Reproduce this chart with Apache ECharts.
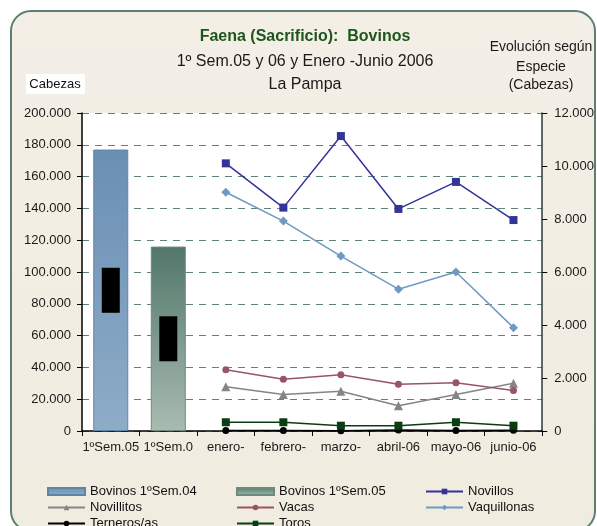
<!DOCTYPE html>
<html>
<head>
<meta charset="utf-8">
<script src="https://cdn.jsdelivr.net/npm/echarts@6/dist/echarts.min.js"></script>
<style>
  html, body { margin: 0; padding: 0; background: #fff; }
  #chart { width: 597px; height: 526px; }
</style>
</head>
<body>
<div id="chart"></div>
<script>
// categorias del eje x
const categories = ['1ºSem.05', '1ºSem.0', 'enero-', 'febrero-', 'marzo-', 'abril-06', 'mayo-06', 'junio-06'];

// barras (eje izquierdo)
const bovinos04 = [177000, '-', '-', '-', '-', '-', '-', '-'];
const bovinos05 = ['-', 116000, '-', '-', '-', '-', '-', '-'];

// lineas (eje derecho)
const novillos    = ['-', '-', 10100, 8430, 11130, 8380, 9400, 7960];
const novillitos  = ['-', '-', 1670, 1380, 1500, 950, 1380, 1800];
const vacas       = ['-', '-', 2310, 1950, 2120, 1760, 1820, 1530];
const vaquillonas = ['-', '-', 9010, 7920, 6600, 5350, 6000, 3900];
const terneros    = ['-', '-', 20, 20, 10, 40, 20, 30];
const toros       = ['-', '-', 330, 330, 200, 200, 330, 200];

// escalas
const leftMax = 200000, leftStep = 20000;
const rightMax = 12000, rightStep = 2000;

const fmt = v => String(v).replace(/\B(?=(\d{3})+(?!\d))/g, '.');
const FONT = '"Liberation Sans", Arial, sans-serif';

const chart = echarts.init(document.getElementById('chart'));

function lineSeries (name, data, color, symbol, size) {
  return {
    name: name,
    type: 'line',
    yAxisIndex: 1,
    data: data,
    symbol: symbol,
    symbolSize: size,
    lineStyle: { color: color, width: 1.5 },
    itemStyle: { color: color },
    z: 5
  }
}

// una leyenda por elemento para fijar la grilla 3 columnas
function legendItem (name, left, top, icon) {
  const l = {
    left: left, top: top, itemWidth: 37, itemHeight: 7, padding: 0,
    textStyle: { fontSize: 13, color: '#111', fontFamily: FONT },
    data: [name]
  };
  if (icon) l.icon = icon;
  return l
}

const blackBox = {
  show: true,
  position: 'inside',
  formatter: ' ',
  backgroundColor: '#000',
  width: 18,
  height: 45
};

const option = {
  animation: false,
  backgroundColor: '#fff',
  textStyle: { fontFamily: FONT },
  graphic: [
    {
      type: 'rect', z: -10,
      shape: { x: 11, y: 11, width: 584, height: 520, r: 20 },
      style: {
        fill: new echarts.graphic.LinearGradient(0, 0, 0, 1, [
          { offset: 0, color: '#f4efe6' }, { offset: 1, color: '#f1ece0' }
        ]),
        stroke: '#5b7f70', lineWidth: 2
      }
    },
    { type: 'text', style: { text: 'Faena (Sacrificio):  Bovinos', x: 305, y: 37, textAlign: 'center', textVerticalAlign: 'middle', font: 'bold 16px ' + FONT, fill: '#1d561d' } },
    { type: 'text', style: { text: '1º Sem.05 y 06 y Enero -Junio 2006', x: 305, y: 62, textAlign: 'center', textVerticalAlign: 'middle', font: '16px ' + FONT, fill: '#1a1a1a' } },
    { type: 'text', style: { text: 'La Pampa', x: 305, y: 85, textAlign: 'center', textVerticalAlign: 'middle', font: '16px ' + FONT, fill: '#1a1a1a' } },
    { type: 'text', style: { text: 'Evolución según', x: 541, y: 47, textAlign: 'center', textVerticalAlign: 'middle', font: '14px ' + FONT, fill: '#1a1a1a' } },
    { type: 'text', style: { text: 'Especie', x: 541, y: 67, textAlign: 'center', textVerticalAlign: 'middle', font: '14px ' + FONT, fill: '#1a1a1a' } },
    { type: 'text', style: { text: '(Cabezas)', x: 541, y: 85, textAlign: 'center', textVerticalAlign: 'middle', font: '14px ' + FONT, fill: '#1a1a1a' } },
    { type: 'rect', shape: { x: 26, y: 74, width: 59, height: 20 }, style: { fill: '#fff' } },
    { type: 'text', style: { text: 'Cabezas', x: 55, y: 84, textAlign: 'center', textVerticalAlign: 'middle', font: '13px ' + FONT, fill: '#111' } }
  ],
  grid: {
    left: 82, right: 53, top: 113, bottom: 95,
    show: true, backgroundColor: '#fff', borderWidth: 0
  },
  legend: [
    legendItem('Bovinos 1ºSem.04', 47, 485, 'rect'),
    legendItem('Novillitos', 47, 501),
    legendItem('Terneros/as', 47, 517),
    legendItem('Bovinos 1ºSem.05', 236, 485, 'rect'),
    legendItem('Vacas', 236, 501),
    legendItem('Toros', 236, 517),
    legendItem('Novillos', 425, 485),
    legendItem('Vaquillonas', 425, 501)
  ],
  xAxis: {
    type: 'category',
    data: categories,
    boundaryGap: true,
    axisLine: { lineStyle: { color: '#000', width: 1.5 } },
    axisTick: { show: true, length: 5, lineStyle: { color: '#000' } },
    axisLabel: { color: '#1a1a1a', fontSize: 13, margin: 10, interval: 0 }
  },
  yAxis: [
    {
      type: 'value', min: 0, max: leftMax, interval: leftStep,
      axisLine: { show: true, lineStyle: { color: '#000', width: 1.5 } },
      axisTick: { show: true, length: 5, lineStyle: { color: '#000' } },
      axisLabel: { color: '#1a1a1a', fontSize: 13, margin: 11, formatter: fmt },
      splitLine: { show: true, lineStyle: { color: '#5f827a', type: [7, 6], width: 1 } }
    },
    {
      type: 'value', min: 0, max: rightMax, interval: rightStep, position: 'right',
      axisLine: { show: true, lineStyle: { color: '#2a3a33', width: 1.5 } },
      axisTick: { show: true, length: 5, lineStyle: { color: '#000' } },
      axisLabel: { color: '#1a1a1a', fontSize: 13, margin: 12, formatter: fmt },
      splitLine: { show: false }
    }
  ],
  series: [
    {
      name: 'Bovinos 1ºSem.04', type: 'bar', data: bovinos04, barWidth: 35, barGap: '-100%',
      itemStyle: {
        color: new echarts.graphic.LinearGradient(0, 0, 0, 1, [
          { offset: 0, color: '#6a8fb4' }, { offset: 1, color: '#8eacc8' }
        ]),
        borderColor: '#5f84aa', borderWidth: 1
      },
      label: blackBox
    },
    {
      name: 'Bovinos 1ºSem.05', type: 'bar', data: bovinos05, barWidth: 35, barGap: '-100%',
      itemStyle: {
        color: new echarts.graphic.LinearGradient(0, 0, 0, 1, [
          { offset: 0, color: '#52776a' }, { offset: 1, color: '#a9bbb1' }
        ]),
        borderColor: '#6d8a7e', borderWidth: 1
      },
      label: blackBox
    },
    lineSeries('Novillos', novillos, '#333399', 'rect', 8),
    lineSeries('Novillitos', novillitos, '#858585', 'triangle', 9),
    lineSeries('Vacas', vacas, '#9a5468', 'circle', 7),
    lineSeries('Vaquillonas', vaquillonas, '#6f99c3', 'diamond', 9),
    lineSeries('Terneros/as', terneros, '#000000', 'circle', 7),
    lineSeries('Toros', toros, '#0b3d12', 'rect', 8)
  ]
};

chart.setOption(option);
</script>
</body>
</html>
